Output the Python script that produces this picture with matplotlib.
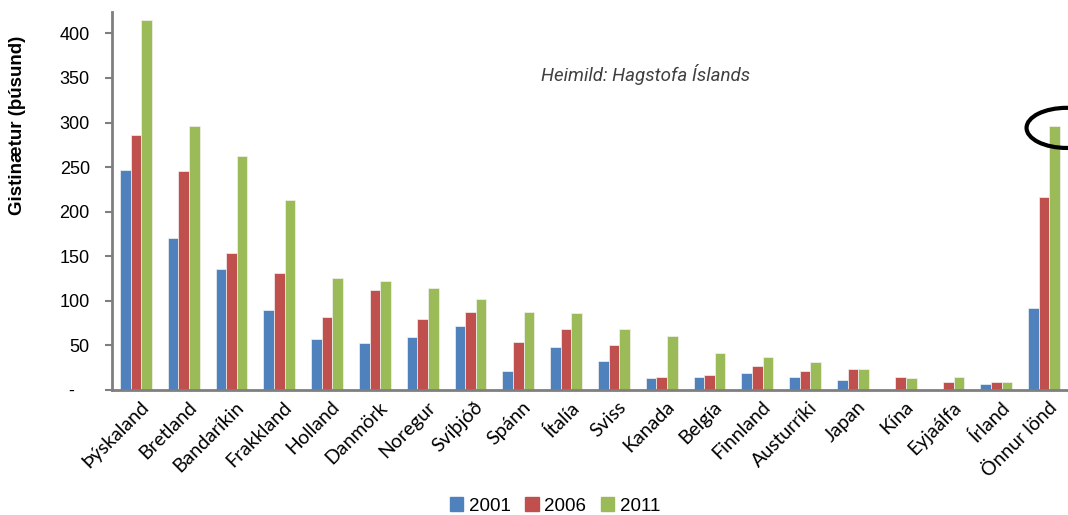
import matplotlib.pyplot as plt
import numpy as np
from matplotlib.patches import Patch, Ellipse

# data (thousands of overnight stays)
countries = ["Þýskaland", "Bretland", "Bandaríkin", "Frakkland", "Holland",
             "Danmörk", "Noregur", "Svíþjóð", "Spánn", "Ítalía", "Sviss",
             "Kanada", "Belgía", "Finnland", "Austurríki", "Japan", "Kína",
             "Eyjaálfa", "Írland", "Önnur lönd"]
v2001 = [247, 171, 136, 90, 57, 53, 60, 72, 21, 48, 33, 13, 15, 19, 15, 11, 0, 0, 7, 92]
v2006 = [286, 246, 154, 131, 82, 112, 80, 88, 54, 68, 50, 15, 17, 27, 21, 23, 15, 9, 9, 217]
v2011 = [415, 296, 263, 213, 126, 122, 114, 102, 88, 86, 68, 61, 41, 37, 31, 23, 13, 15, 9, 296]
years = ["2001", "2006", "2011"]
colors = ["#4F81BD", "#C0504D", "#9BBB59"]
yticks = [0, 50, 100, 150, 200, 250, 300, 350, 400]
ytick_labels = ["-   ", "50", "100", "150", "200", "250", "300", "350", "400"]

fig = plt.figure(figsize=(10.68, 5.15), dpi=100)
ax = fig.add_axes([112/1068, 1-390/515, 1-112/1068, (390-12)/515])

x = np.arange(len(countries))
w = 0.223
for i, (vals, c) in enumerate(zip([v2001, v2006, v2011], colors)):
    ax.bar(x + (i-1)*w, vals, w, color=c, edgecolor="#f2f2f2", linewidth=0.5, zorder=2)

ax.set_xlim(-0.5, len(countries)-0.5)
ax.set_ylim(0, 424)
ax.set_yticks(yticks)
ax.set_yticklabels(ytick_labels, fontsize=13, family="Liberation Sans")
ax.tick_params(axis="y", length=5, width=1.5, color="#7f7f7f", pad=11)
ax.set_xticks(x + 0.08)
ax.set_xticklabels(countries, rotation=45, ha="right", rotation_mode="anchor",
                   fontsize=14, family="Lato")
ax.tick_params(axis="x", length=0, pad=6)

for s in ["top", "right"]:
    ax.spines[s].set_visible(False)
for s in ["left", "bottom"]:
    ax.spines[s].set_color("#7f7f7f")
    ax.spines[s].set_linewidth(2)

# source note
ax.text(0.558, 0.835, "Heimild: Hagstofa Íslands", transform=ax.transAxes,
        ha="center", va="center", fontsize=13.5, style="italic",
        family="Roboto", color="#404040")

# circle around the last green bar
ell = Ellipse((x[-1] + w + 0.25, v2011[-1] - 2), 1.68, 45, fill=False,
              edgecolor="black", linewidth=3, zorder=3, clip_on=False)
ax.add_patch(ell)

fig.text(18/1068, 1-125/515, "Gistinætur (þúsund)", rotation=90, ha="center",
         va="center", fontsize=13.5, fontweight="bold", family="Liberation Sans")

handles = [Patch(color=c) for c in colors]
fig.legend(handles, years, loc="center", bbox_to_anchor=(555/1068, 1-506/515),
           ncol=3, frameon=False, handlelength=0.7, handleheight=0.7,
           handletextpad=0.3, columnspacing=0.8,
           prop={"family": "Liberation Sans", "size": 13.5})

fig.savefig("out.png", dpi=100)
